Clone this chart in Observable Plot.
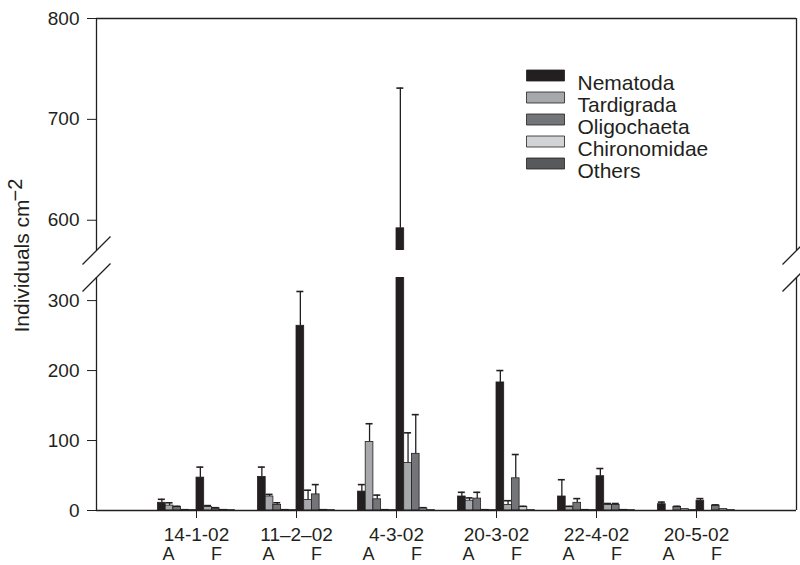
<!DOCTYPE html>
<html>
<head>
<meta charset="utf-8">
<script src="https://cdn.jsdelivr.net/npm/d3@7"></script>
<script src="https://cdn.jsdelivr.net/npm/@observablehq/plot@0.6"></script>
<style>
  body { margin: 0; background: #fff; font-family: "Liberation Sans", Arial, sans-serif; }
  #chart { position: relative; width: 800px; height: 565px; }
  #chart svg { position: absolute; left: 0; overflow: visible; }
</style>
</head>
<body>
<div id="chart"></div>
<script>
// ---- data ----
const dates = ["14-1-02", "11–2–02", "4-3-02", "20-3-02", "22-4-02", "20-5-02"];
const sites = ["A", "F"];
const taxa = ["Nematoda", "Tardigrada", "Oligochaeta", "Chironomidae", "Others"];
const taxaColors = ["#231f20", "#a6a8ab", "#747578", "#d2d3d5", "#58595b"];
const lowerTicks = [0, 100, 200, 300];
const upperTicks = [600, 700, 800];

// values ordered: date1 A, date1 F, date2 A, date2 F, ...
const nematoda       = [11, 47, 48, 264, 27, 592, 20, 183, 20, 49, 9, 14];
const nematodaSE     = [5, 15, 14, 49, 10, 139, 6, 17, 24, 11, 3, 3];
const tardigrada     = [7, 5, 20, 15, 98, 68, 14, 8, 5, 8, 0, 0];
const tardigradaSE   = [4, 2, 3, 14, 26, 43, 4, 6, 1, 2, 0, 0];
const oligochaeta    = [5, 3, 8, 23, 16, 81, 17, 46, 11, 8, 5, 7];
const oligochaetaSE  = [1, 1, 3, 14, 6, 56, 9, 34, 6, 2, 1, 1];
const chironomidae   = [1, 1, 1, 1, 1, 3, 1, 5, 1, 1, 2, 2];
const chironomidaeSE = [0, 0, 0, 0, 0, 1, 0, 1, 0, 0, 0, 0];
const others         = [0.5, 0.5, 0.5, 0.5, 0.5, 0.5, 0.5, 0.5, 0.5, 0.5, 0.5, 0.5];
const othersSE       = [0, 0, 0, 0, 0, 0, 0, 0, 0, 0, 0, 0];

// ---- broken axis: lower and upper panels ----
const lowerDomain = [0, 333];
const upperDomain = [570, 800];

const values = [nematoda, tardigrada, oligochaeta, chironomidae, others];
const errors = [nematodaSE, tardigradaSE, oligochaetaSE, chironomidaeSE, othersSE];

const rows = [];
taxa.forEach((t, k) => dates.forEach((d, i) => sites.forEach((s, j) => {
  const idx = i * 2 + j;
  rows.push({taxon: t, k, date: d, i, site: s, j, value: values[k][idx], se: errors[k][idx]});
})));
const errRows = rows.filter(r => r.se > 0);

const barW = 0.077;
const bx1 = r => r.i + 1 + (r.j === 0 ? -5 * barW : 0) + r.k * barW;
const bx2 = r => bx1(r) + barW;
const bxc = r => bx1(r) + barW / 2;

const siteRows = [];
dates.forEach((d, i) => sites.forEach((s, j) => siteRows.push({i, j, site: s})));

const ink = "#231f20";
const slash = {draw(ctx, size) { const r = Math.sqrt(size / Math.PI); ctx.moveTo(-r, r); ctx.lineTo(r, -r); }};
const swatch = {draw(ctx, size) { ctx.rect(-19, -5.5, 38, 11); }};

function dataMarks() {
  return [
    Plot.rect(rows, {x1: bx1, x2: bx2, y1: 0, y2: "value", fill: "taxon", stroke: ink, strokeWidth: 0.8, clip: true}),
    Plot.ruleX(errRows, {x: bxc, y1: "value", y2: r => r.value + r.se, stroke: ink, strokeWidth: 1.3, clip: true}),
    Plot.ruleY(errRows, {y: r => r.value + r.se, x1: r => bxc(r) - 0.035, x2: r => bxc(r) + 0.035, stroke: ink, strokeWidth: 1.6, clip: true})
  ];
}

const common = {
  width: 800, marginLeft: 96, marginRight: 4,
  style: {fontFamily: "Liberation Sans, Arial, sans-serif", background: "transparent", color: ink, overflow: "visible"},
  color: {domain: taxa, range: taxaColors}
};

const legendMarks = taxa.flatMap((t, k) => [
  Plot.dot([t], {frameAnchor: "top-left", dx: 449, dy: 57 + 22 * k, r: 5, symbol: swatch,
                 fill: taxaColors[k], stroke: ink, strokeWidth: 0.8}),
  Plot.text([t], {frameAnchor: "top-left", dx: 481, dy: 57 + 22 * k, text: d => d,
                  textAnchor: "start", fontSize: 21, fill: ink})
]);

// upper panel (page y 0..250)
const upper = Plot.plot({
  ...common,
  height: 250, marginTop: 18, marginBottom: 0,
  x: {domain: [0, 7], axis: null},
  y: {domain: upperDomain, axis: null},
  marks: [
    ...dataMarks(),
    Plot.ruleX([0, 7], {y1: upperDomain[0], y2: upperDomain[1], stroke: ink, strokeWidth: 1.3}),
    Plot.ruleY([upperDomain[1]], {x1: 0, x2: 7, stroke: ink, strokeWidth: 1.3}),
    Plot.dot([0, 7], {x: d => d, y: upperDomain[0], r: 14, symbol: slash, stroke: ink, fill: "none", strokeWidth: 1.3}),
    Plot.axisY({ticks: upperTicks, tickSize: 9, tickPadding: 8, fontSize: 19, label: null, tickFormat: d => d, stroke: ink}),
    Plot.text(["Individuals cm"], {frameAnchor: "left", dx: -74, dy: 198, rotate: -90, textAnchor: "start", text: d => d, fontSize: 21, fill: ink}),
    Plot.text(["−2"], {frameAnchor: "left", dx: -81, dy: 67, rotate: -90, textAnchor: "start", text: d => d, fontSize: 20, fill: ink}),
    ...legendMarks
  ]
});

// lower panel (page y 250..565)
const lower = Plot.plot({
  ...common,
  height: 315, marginTop: 27, marginBottom: 55,
  x: {domain: [0, 7]},
  y: {domain: lowerDomain},
  marks: [
    ...dataMarks(),
    Plot.ruleX([0, 7], {y1: lowerDomain[0], y2: lowerDomain[1], stroke: ink, strokeWidth: 1.3}),
    Plot.ruleY([0], {x1: 0, x2: 7, stroke: ink, strokeWidth: 1.3}),
    Plot.dot([0, 7], {x: d => d, y: lowerDomain[1], r: 14, symbol: slash, stroke: ink, fill: "none", strokeWidth: 1.3}),
    Plot.axisY({ticks: lowerTicks, tickSize: 9, tickPadding: 8, fontSize: 19, label: null, tickFormat: d => d, stroke: ink}),
    Plot.axisX({ticks: [1, 2, 3, 4, 5, 6], tickFormat: d => dates[d - 1], tickSize: 8, tickPadding: 9, fontSize: 19, label: null, stroke: ink}),
    Plot.text(siteRows, {x: d => d.i + 1 + (d.j === 0 ? -0.28 : 0.2), y: 0, text: "site", dy: 44, fontSize: 18, fill: ink})
  ]
});

upper.style.top = "0px";
lower.style.top = "250px";
const host = document.getElementById("chart");
host.appendChild(upper);
host.appendChild(lower);
</script>
</body>
</html>
